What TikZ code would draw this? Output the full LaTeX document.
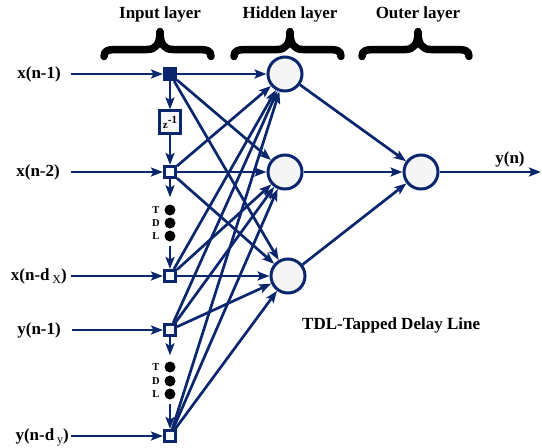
\documentclass[tikz,border=0pt]{standalone}
\usepackage{fontspec}
\setmainfont{Liberation Serif}
\usetikzlibrary{arrows.meta}
\definecolor{navy}{RGB}{10,38,108}
\begin{document}
\begin{tikzpicture}[x=1pt,y=-1pt,
  conn/.style={draw=navy, line width=2.7pt, -{Stealth[length=12pt,width=9pt,inset=2.5pt]}},
  neuron/.style={circle, draw=navy, line width=3pt, fill=black!4, minimum size=34pt, inner sep=0pt},
  insq/.style={rectangle, draw=navy, line width=2.6pt, fill=black!3, minimum size=11.5pt, inner sep=0pt},
  zbox/.style={rectangle, draw=navy, line width=2.6pt, fill=black!3, minimum width=21.5pt, minimum height=22.5pt, inner sep=0pt},
  lab/.style={font=\fontsize{17}{17}\selectfont\bfseries, inner sep=0pt},
  ttl/.style={font=\fontsize{17}{17}\selectfont\bfseries, inner sep=0pt, anchor=base},
  tdot/.style={circle, fill=black, minimum size=11pt, inner sep=0pt},
  tdl/.style={font=\fontsize{10.5}{10.5}\selectfont\bfseries, inner sep=0pt},
  bracestyle/.style={draw=black, line width=7.5pt, line cap=round, line join=round}
]
\useasboundingbox (0,0) rectangle (542,448);

% titles
\node[ttl] (t1) at (160,18.5) {Input layer};
\node[ttl] (t2) at (290,18.5) {Hidden layer};
\node[ttl] (t3) at (418,18.5) {Outer layer};

% braces
\foreach \xl/\xm/\xr in {100/160/215, 230/290/345, 358/418/473} {
  \draw[bracestyle] ({\xl+4},56.5) .. controls ({\xl+4},50) and ({\xl+8},49.5) .. ({\xl+20},49.5)
     -- ({\xm-13},49.5) .. controls ({\xm-4},49.5) and (\xm,44) .. (\xm,31.5)
     .. controls (\xm,44) and ({\xm+4},49.5) .. ({\xm+13},49.5)
     -- ({\xr-20},49.5) .. controls ({\xr-8},49.5) and ({\xr-4},50) .. ({\xr-4},56.5);
}

% input taps
\node[insq, fill=navy] (i1) at (170,74) {};
\node[zbox] (z) at (170,122) {\fontsize{11}{11}\selectfont\bfseries z\raisebox{5pt}{-1}};
\node[insq] (i2) at (170,172) {};
\node[insq] (i3) at (170,276) {};
\node[insq] (i4) at (170,330) {};
\node[insq] (i5) at (170,436) {};

% labels
\node[lab, anchor=east] (l1) at (61,74) {x(n-1)};
\node[lab, anchor=east] (l2) at (60,172) {x(n-2)};
\node[lab, anchor=east] (l3) at (67,276) {x(n-d\,\raisebox{-3pt}[0pt][0pt]{\mdseries\fontsize{12}{12}\selectfont X})};
\node[lab, anchor=east] (l4) at (61,330) {y(n-1)};
\node[lab, anchor=east] (l5) at (69,436) {y(n-d\,\raisebox{-3pt}[0pt][0pt]{\mdseries\fontsize{12}{12}\selectfont y})};

% TDL dots
\node[tdot] (d1) at (170,210) {};
\node[tdot] (d2) at (170,223) {};
\node[tdot] (d3) at (170,236) {};
\node[tdl] (dt) at (156,210) {T};
\node[tdl] (dd) at (156,223) {D};
\node[tdl] (dl) at (156,236) {L};
\node[tdot] (e1) at (170,367) {};
\node[tdot] (e2) at (170,381) {};
\node[tdot] (e3) at (170,394) {};
\node[tdl] (et) at (156,367) {T};
\node[tdl] (ed) at (156,381) {D};
\node[tdl] (el) at (156,394) {L};

% neurons
\node[neuron] (h1) at (285,74) {};
\node[neuron] (h2) at (285,172) {};
\node[neuron] (h3) at (288,276) {};
\node[neuron] (o) at (421,172) {};
\coordinate (yout) at (541,172);
\node[lab] (ylab) at (510,159) {y(n)};
\node[lab, anchor=base west] (note) at (302,329) {TDL-Tapped Delay Line};

% input arrows
\draw[conn, shorten <=10pt] (l1) -- (i1);
\draw[conn, shorten <=11pt] (l2) -- (i2);
\draw[conn, shorten <=4pt] (l3) -- (i3);
\draw[conn, shorten <=11pt] (l4) -- (i4);
\draw[conn, shorten <=2pt] (l5) -- (i5);

% delay line
\draw[conn] (i1) -- (z);
\draw[conn] (z) -- (i2);
\draw[conn, shorten >=7pt] (i2) -- (d1);
\draw[conn, shorten <=4pt] (d3) -- (i3);
\draw[conn, shorten >=6pt] (i4) -- (e1);
\draw[conn, shorten <=4pt] (e3) -- (i5);

% full connections
\foreach \i in {i1,i2,i3,i4,i5} {
  \foreach \h in {h1,h2,h3} {
    \draw[conn] (\i) -- (\h);
  }
}
\foreach \h in {h1,h2,h3} {
  \draw[conn] (\h) -- (o);
}
\draw[conn] (o) -- (yout);
\end{tikzpicture}
\end{document}
